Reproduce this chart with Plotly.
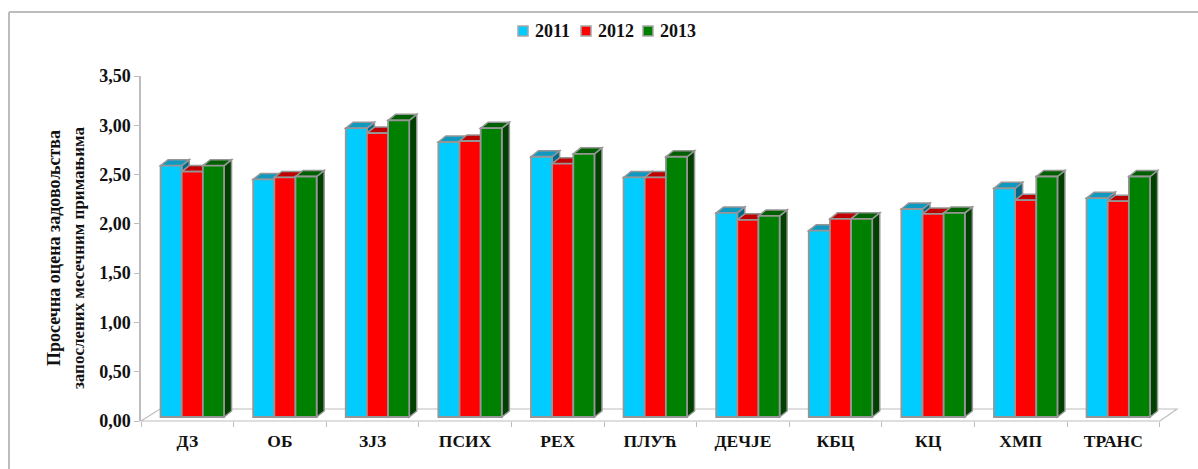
# chart of average satisfaction scores by institution, 2011-2013
import plotly.graph_objects as go

# ---- data
categories = ["ДЗ", "ОБ", "ЗЈЗ", "ПСИХ", "РЕХ", "ПЛУЋ", "ДЕЧЈЕ", "КБЦ", "КЦ", "ХМП", "ТРАНС"]
values_2011 = [2.55, 2.41, 2.93, 2.79, 2.64, 2.43, 2.07, 1.89, 2.11, 2.32, 2.22]
values_2012 = [2.49, 2.43, 2.88, 2.80, 2.57, 2.43, 2.00, 2.01, 2.06, 2.20, 2.19]
values_2013 = [2.55, 2.44, 3.01, 2.93, 2.67, 2.64, 2.04, 2.01, 2.07, 2.44, 2.44]
years = ["2011", "2012", "2013"]

front_colors = ["#00ccff", "#ff0000", "#008000"]
top_colors = ["#0f98c0", "#bf0000", "#006000"]
side_colors = ["#006a88", "#800000", "#004000"]

# ---- layout constants (pixels)
W, H = 1198, 469
PLOT_L, PLOT_R, PLOT_T, PLOT_B = 141, 1178, 76, 421
CAT_PX = 92.6
UNIT_PX = (PLOT_B - PLOT_T) / 3.5
BAR_SHIFT_X, BAR_SHIFT_Y = 5, 4
DEPTH_X, DEPTH_Y = 7.5 / CAT_PX, 6 / UNIT_PX
GROUP_W = 63.5 / CAT_PX
BAR_W = GROUP_W / 3
LEGEND_SWATCH_X = [518, 581, 643]
FONT = "Liberation Serif"
GRAY = "#bdbdbd"
EDGE = "#969696"

x_max = (PLOT_R - PLOT_L) / CAT_PX
centers = [i + 0.5 for i in range(len(categories))]
series = [values_2011, values_2012, values_2013]


def px(x):
    return x / W


def py(y):
    return 1 - y / H


def face(points, fill):
    path = "M " + " L ".join(f"{a} {b}" for a, b in points) + " Z"
    return dict(type="path", path=path, xref="x2", yref="y2", fillcolor=fill,
                line=dict(color=EDGE, width=1.5), layer="below")


# 3D top and side faces, left to right so that each bar covers the one before
shapes = []
floor = [(PLOT_L, PLOT_B), (PLOT_L + 19, PLOT_B - 12), (PLOT_L + 1036, PLOT_B - 12), (PLOT_L + 1019, PLOT_B)]
shapes.append(dict(type="path", xref="paper", yref="paper", layer="below", fillcolor="white",
                   line=dict(color=GRAY, width=1.2),
                   path="M " + " L ".join(f"{px(a)} {py(b)}" for a, b in floor) + " Z"))
for c, center in enumerate(centers):
    for s, vals in enumerate(series):
        left = center - GROUP_W / 2 + s * BAR_W
        right = left + BAR_W
        v = vals[c]
        shapes.append(face([(right, 0), (right + DEPTH_X, DEPTH_Y), (right + DEPTH_X, v + DEPTH_Y), (right, v)],
                           side_colors[s]))
        shapes.append(face([(left, v), (left + DEPTH_X, v + DEPTH_Y), (right + DEPTH_X, v + DEPTH_Y), (right, v)],
                           top_colors[s]))

# chart frame: only the top and left edges show in the crop
shapes.append(dict(type="line", xref="paper", yref="paper", x0=px(9), x1=1, y0=py(12), y1=py(12),
                   line=dict(color=GRAY, width=2)))
shapes.append(dict(type="line", xref="paper", yref="paper", x0=px(9), x1=px(9), y0=py(12), y1=0,
                   line=dict(color=GRAY, width=2)))

annotations = [
    dict(text="Просечна оцена задовољства", xref="paper", yref="paper", x=px(54), y=py(248),
         xanchor="center", yanchor="middle", textangle=-90, showarrow=False,
         font=dict(family=FONT, size=18, weight="bold")),
    dict(text="запослених месечним примањима", xref="paper", yref="paper", x=px(78), y=py(258),
         xanchor="center", yanchor="middle", textangle=-90, showarrow=False,
         font=dict(family=FONT, size=17, weight="bold")),
]

# legend by hand: the built-in one cannot sit this tight without clipping its last label
for s, year in enumerate(years):
    sx = LEGEND_SWATCH_X[s]
    shapes.append(dict(type="rect", xref="paper", yref="paper", x0=px(sx), x1=px(sx + 10), y0=py(36), y1=py(26),
                       fillcolor=front_colors[s], line=dict(color="#a6a6a6", width=1.5)))
    annotations.append(dict(text=year, xref="paper", yref="paper", x=px(sx + 16), y=py(30.5),
                            xanchor="left", yanchor="middle", showarrow=False, borderpad=0,
                            font=dict(family=FONT, size=18, weight="bold")))

fig = go.Figure()
# invisible trace so the visible axes x/y get drawn
fig.add_trace(go.Scatter(x=centers, y=values_2011, mode="none", showlegend=False, hoverinfo="skip"))
for s, vals in enumerate(series):
    fig.add_trace(go.Bar(
        x=centers, y=vals, name=years[s], xaxis="x2", yaxis="y2",
        marker=dict(color=front_colors[s], line=dict(color=EDGE, width=1.8)),
    ))

fig.update_layout(
    width=W, height=H,
    margin=dict(l=0, r=0, t=0, b=0, autoexpand=False),
    paper_bgcolor="white", plot_bgcolor="rgba(0,0,0,0)",
    barmode="group", bargap=1 - GROUP_W, bargroupgap=0,
    separators=",.",
    font=dict(family=FONT, color="#111111"),
    shapes=shapes,
    annotations=annotations,
    showlegend=False,
    xaxis=dict(
        domain=[px(PLOT_L), px(PLOT_R)], range=[0, x_max], showgrid=False, zeroline=False, showline=False,
        tickmode="array", tickvals=centers, ticktext=categories, ticks="", ticklabelstandoff=7,
        tickfont=dict(family=FONT, size=17.5, weight="bold"),
        minor=dict(tickmode="array", tickvals=list(range(len(categories) + 1)), ticks="outside",
                   ticklen=5, tickwidth=1.3, tickcolor=GRAY, showgrid=False),
    ),
    yaxis=dict(
        domain=[py(PLOT_B), py(PLOT_T)], range=[0, 3.5], showgrid=False, zeroline=False,
        showline=True, linecolor=GRAY, linewidth=1.5,
        tickmode="array", tickvals=[0, 0.5, 1, 1.5, 2, 2.5, 3, 3.5], tickformat=".2f",
        ticks="outside", ticklen=5, tickwidth=1.3, tickcolor=GRAY,
        tickfont=dict(family=FONT, size=18, weight="bold"),
    ),
    # front faces sit a little inside the floor, so they use shifted copies of the axes
    xaxis2=dict(
        overlaying="x", visible=False, anchor="y2", domain=[px(PLOT_L), px(PLOT_R)],
        range=[-BAR_SHIFT_X / CAT_PX, x_max - BAR_SHIFT_X / CAT_PX],
    ),
    yaxis2=dict(
        overlaying="y", visible=False, anchor="x2", domain=[py(PLOT_B), py(PLOT_T)],
        range=[-BAR_SHIFT_Y / UNIT_PX, 3.5 - BAR_SHIFT_Y / UNIT_PX],
    ),
)

fig.write_html("out.html", post_script="document.body.style.margin='0';", config={"displayModeBar": False})
